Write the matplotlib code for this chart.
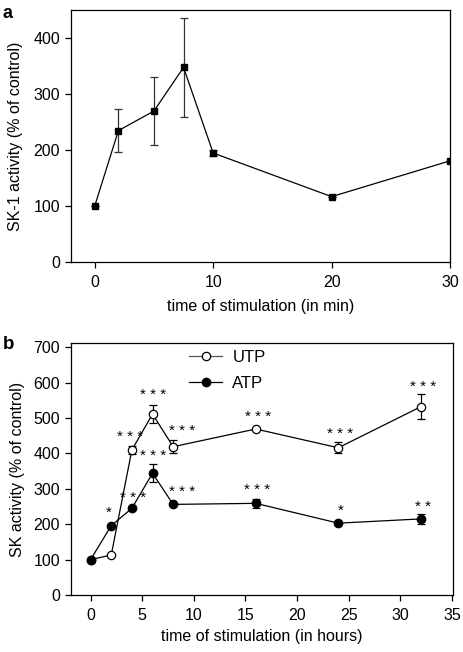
import matplotlib
matplotlib.use("Agg")
import matplotlib.pyplot as plt
from matplotlib.lines import Line2D

plt.rcParams['font.family'] = ['Liberation Sans', 'DejaVu Sans']

# Panel a
a_time = [0, 2, 5, 7.5, 10, 20, 30]
a_val = [100, 235, 270, 348, 195, 117, 181]
a_err = [0, 38, 61, 88, 5, 0, 0]

# Panel b
b_time = [0, 2, 4, 6, 8, 16, 24, 32]
utp_val = [100, 113, 410, 511, 419, 469, 416, 532]
utp_err = [0, 0, 12, 26, 19, 0, 15, 35]
atp_val = [100, 196, 245, 344, 256, 259, 203, 215]
atp_err = [0, 0, 0, 25, 0, 12, 0, 14]
utp_stars = ["", "", "***", "***", "***", "***", "***", "***"]
utp_star_pos = [None, None, (3.8, 447), (6.1, 565), (8.9, 464), (16.2, 504), (24.2, 454), (32.2, 589)]
atp_stars = ["", "*", "***", "***", "***", "***", "*", "**"]
atp_star_pos = [None, (1.8, 233), (4.1, 275), (6.1, 393), (8.9, 292), (16.1, 297), (24.2, 238), (32.2, 250)]

fig = plt.figure(figsize=(4.64, 6.52), dpi=100)

lw = 0.9
fs = 11.5

def style(ax):
    for s in ax.spines.values():
        s.set_linewidth(0.9)
    ax.tick_params(direction='out', length=4.5, width=0.9, labelsize=fs, pad=4.5)

ax1 = fig.add_axes([0.153, 0.598, 0.817, 0.387])
ax1.errorbar(a_time, a_val, yerr=a_err, color='black', lw=lw, marker='s', ms=4.2,
             ecolor='#333333', elinewidth=0.9, capsize=3, capthick=0.9)
ax1.set_xlim(-2, 30)
ax1.set_ylim(0, 451)
ax1.set_xticks([0, 10, 20, 30])
ax1.set_yticks([0, 100, 200, 300, 400])
ax1.set_xlabel('time of stimulation (in min)', fontsize=fs, labelpad=7)
ax1.set_ylabel('SK-1 activity (% of control)', fontsize=fs, labelpad=7)
style(ax1)
ax1.tick_params(axis='y', pad=3.5)

ax2 = fig.add_axes([0.153, 0.0874, 0.823, 0.386])
ax2.errorbar(b_time, utp_val, yerr=utp_err, color='black', lw=lw, marker='o', ms=6,
             mfc='white', mec='black', mew=0.9, ecolor='black', elinewidth=0.9,
             capsize=3, capthick=0.9, zorder=3)
ax2.errorbar(b_time, atp_val, yerr=atp_err, color='black', lw=lw, marker='o', ms=6,
             mfc='black', mec='black', ecolor='black', elinewidth=0.9,
             capsize=3, capthick=0.9, zorder=3)
for s, p in zip(utp_stars, utp_star_pos):
    if s:
        ax2.text(p[0], p[1], " ".join(s), ha='center', va='center', fontsize=11)
for s, p in zip(atp_stars, atp_star_pos):
    if s:
        ax2.text(p[0], p[1], " ".join(s), ha='center', va='center', fontsize=11)
ax2.set_xlim(-1.9, 35.1)
ax2.set_ylim(0, 711)
ax2.set_xticks([0, 5, 10, 15, 20, 25, 30, 35])
ax2.set_yticks([0, 100, 200, 300, 400, 500, 600, 700])
ax2.set_xlabel('time of stimulation (in hours)', fontsize=fs, labelpad=5)
ax2.set_ylabel('SK activity (% of control)', fontsize=fs, labelpad=6)
handles = [
    Line2D([], [], color='#555555', lw=lw, marker='o', ms=6, mfc='white', mec='black', mew=0.9),
    Line2D([], [], color='black', lw=lw, marker='o', ms=6, mfc='black', mec='black'),
]
ax2.legend(handles, ['UTP', 'ATP'], loc='upper left', bbox_to_anchor=(0.27, 1.035),
           frameon=False, fontsize=fs + 0.5, handlelength=2.0, labelspacing=0.7,
           handletextpad=0.6)
style(ax2)
ax2.tick_params(axis='y', pad=3.5)

fig.text(0.006, 0.979, 'a', fontsize=13, fontweight='bold', va='center')
fig.text(0.006, 0.471, 'b', fontsize=13.5, fontweight='bold', va='center')

fig.savefig('out.png', dpi=100)
